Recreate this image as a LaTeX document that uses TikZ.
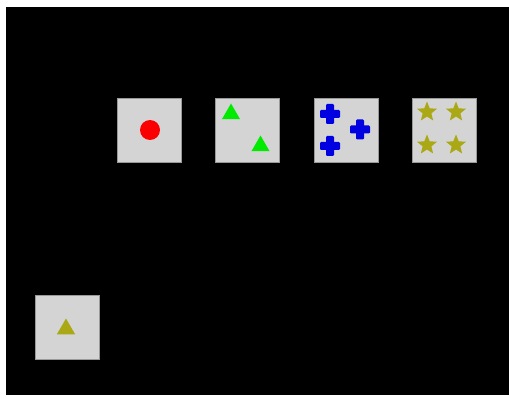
\documentclass[tikz,border=0pt]{standalone}
\usetikzlibrary{shapes.geometric}
\definecolor{cardgray}{RGB}{212,212,212}
\definecolor{markred}{RGB}{250,0,0}
\definecolor{markgreen}{RGB}{0,235,0}
\definecolor{markblue}{RGB}{0,0,225}
\definecolor{markolive}{RGB}{170,168,20}
\begin{document}
\begin{tikzpicture}[
    x=0.02cm, y=-0.02cm,
    card/.style={draw=gray!80, fill=cardgray, minimum size=1.28cm, inner sep=0pt},
    dot/.style={circle, fill=#1, inner sep=0pt, minimum size=0.4cm},
    tri/.style={regular polygon, regular polygon sides=3, fill=#1, inner sep=0pt, minimum size=0.42cm},
    starmark/.style={star, star points=5, star point ratio=2.3, fill=#1, inner sep=0pt, minimum size=0.42cm},
    plusmark/.pic={
        \fill[markblue, rounded corners=0.6pt] (-10,-4) rectangle (10,4);
        \fill[markblue, rounded corners=0.6pt] (-4,-10) rectangle (4,10);
    }
]
    \useasboundingbox (0,0) rectangle (509,398);
    \fill[black] (6,7) rectangle (509,395);
    % top row of cards
    \node[card] (one) at (149,130) {};
    \node[card] (two) at (247.5,130) {};
    \node[card] (three) at (346,130) {};
    \node[card] (four) at (444.5,130) {};
    % lone card
    \node[card] (lone) at (67,327) {};
    % marks
    \node[dot=markred] (oneA) at (150,130) {};
    \node[tri=markgreen] (twoA) at (231,114) {};
    \node[tri=markgreen] (twoB) at (260.5,146) {};
    \pic at (330,114) {plusmark};
    \pic at (360,129.5) {plusmark};
    \pic at (330,146) {plusmark};
    \node[starmark=markolive] (fourA) at (427,112) {};
    \node[starmark=markolive] (fourB) at (456,112) {};
    \node[starmark=markolive] (fourC) at (427,145) {};
    \node[starmark=markolive] (fourD) at (456,145) {};
    \node[tri=markolive] (loneA) at (66,329) {};
\end{tikzpicture}
\end{document}
